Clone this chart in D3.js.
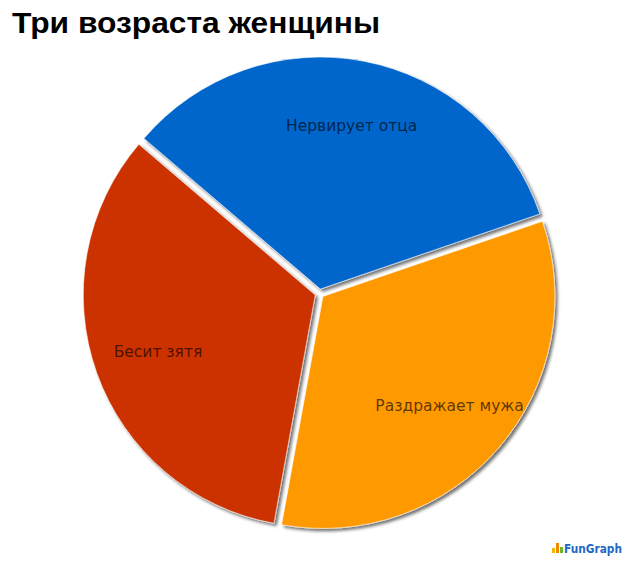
<!DOCTYPE html>
<html><head><meta charset="utf-8">
<script src="https://cdn.jsdelivr.net/npm/d3@7"></script>
<style>html,body{margin:0;padding:0;background:#fff;}svg{display:block;}</style>
</head><body>
<script>
const title = "Три возраста женщины";
const categories = ["Нервирует отца", "Раздражает мужа", "Бесит зятя"];
const values = [33.5, 33.1, 33.4];
const colors = ["#0066CC", "#FF9900", "#CC3300"];

const W = 640, H = 565;
const cx = 319.5, cy = 293.5, R = 232, explode = 4.5;

const svg = d3.select("body").append("svg").attr("width", W).attr("height", H);
const defs = svg.append("defs");
const f = defs.append("filter").attr("id", "sh").attr("x", "-20%").attr("y", "-20%").attr("width", "140%").attr("height", "140%");
f.append("feDropShadow").attr("dx", 2.5).attr("dy", 2.5).attr("stdDeviation", 1.8)
  .attr("flood-color", "#000").attr("flood-opacity", 0.55);

svg.append("text").attr("x", 12).attr("y", 33)
  .attr("font-family", "Liberation Sans, Arial, sans-serif").attr("font-weight", "bold")
  .attr("font-size", 29).attr("fill", "#000")
  .attr("textLength", 368).attr("lengthAdjust", "spacingAndGlyphs").text(title);

const data = categories.map((c, i) => ({ name: c, value: values[i], color: colors[i] }));
const pie = d3.pie().value(d => d.value).sort(null).startAngle(-49.5 * Math.PI / 180).endAngle((360 - 49.5) * Math.PI / 180);
const arcs = pie(data);
const arc = d3.arc().innerRadius(0).outerRadius(R);
const labelArc = d3.arc().innerRadius(167).outerRadius(167);

const g = svg.append("g").attr("transform", `translate(${cx},${cy})`);
const sl = g.selectAll("g.s").data(arcs).enter().append("g")
  .attr("transform", d => {
    const m = (d.startAngle + d.endAngle) / 2;
    return `translate(${explode * Math.sin(m)},${-explode * Math.cos(m)})`;
  });
sl.append("path").attr("d", arc).attr("fill", d => d.data.color)
  .attr("stroke", "#ffffff").attr("stroke-opacity", 0.7).attr("stroke-width", 0.8)
  .attr("filter", "url(#sh)");
sl.append("text")
  .attr("transform", d => `translate(${labelArc.centroid(d)})`)
  .attr("dy", 5.5).attr("text-anchor", "middle")
  .attr("font-family", "DejaVu Sans, Verdana, sans-serif").attr("font-size", 15.5)
  .attr("fill", "#000").attr("fill-opacity", 0.65)
  .text(d => d.data.name);

// FunGraph logo
const logo = svg.append("g").attr("transform", "translate(552,553)");
logo.append("rect").attr("x", 0).attr("y", -5).attr("width", 3).attr("height", 5).attr("fill", "#f5b800");
logo.append("rect").attr("x", 4).attr("y", -10).attr("width", 3).attr("height", 10).attr("fill", "#f08a00");
logo.append("rect").attr("x", 8).attr("y", -6).attr("width", 3).attr("height", 6).attr("fill", "#6cb82c");
logo.append("text").attr("x", 12).attr("y", 0)
  .attr("font-family", "DejaVu Sans, sans-serif").attr("font-weight", "bold").attr("font-size", 13)
  .attr("fill", "#1f67c4").attr("textLength", 58).attr("lengthAdjust", "spacingAndGlyphs").text("FunGraph");
</script>
</body></html>
